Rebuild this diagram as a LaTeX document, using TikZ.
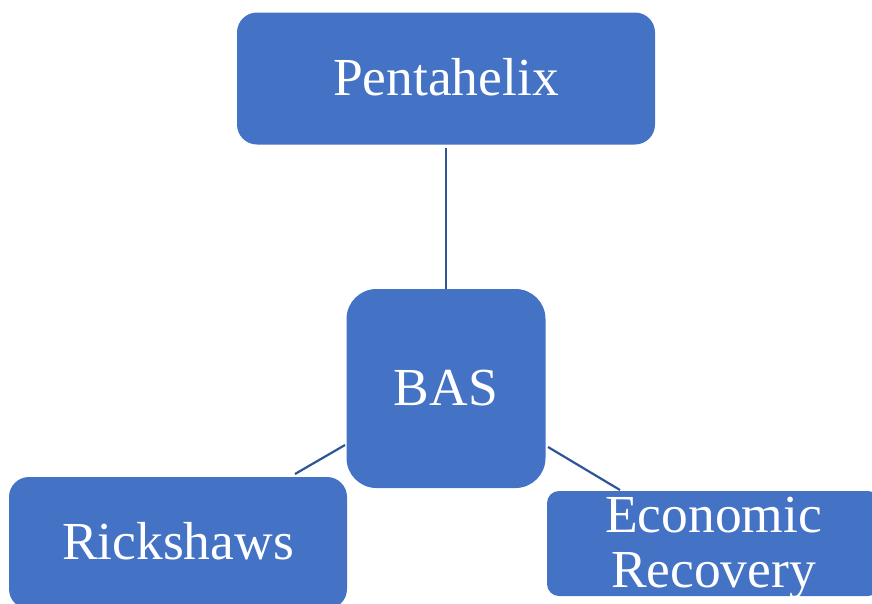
\documentclass[tikz,border=0pt]{standalone}
\usepackage{fontspec}
\setmainfont{Liberation Serif}
\definecolor{boxblue}{HTML}{4472C4}
\definecolor{linkblue}{HTML}{2F5597}
\begin{document}
\begin{tikzpicture}[x=1pt,y=-1pt,
  box/.style={fill=boxblue, text=white, inner sep=0pt,
    font=\fontsize{53.5}{55}\selectfont, text height=33pt, text depth=0pt},
  link/.style={draw=linkblue, line width=2.2pt}]
\useasboundingbox (0,0) rectangle (872,603);
\node[box, rounded corners=20pt, minimum width=418pt, minimum height=132pt] (p) at (446,78.5) {Pentahelix};
\node[box, rounded corners=30pt, minimum width=199pt, minimum height=199pt] (b) at (446,388.5) {BAS};
\node[box, rounded corners=20pt, minimum width=338pt, minimum height=132pt] (r) at (178,543) {Rickshaws};
\node[box, rounded corners=12pt, minimum width=333pt, minimum height=105pt, align=center,
  text height=90pt, text depth=3pt] (e) at (713.5,543.5) {Economic\\Recovery};
\coordinate (bl) at (345,445);
\coordinate (rl) at (295,474);
\coordinate (br) at (548,447);
\coordinate (er) at (620,490);
\draw[link] ([yshift=-3pt]p.south) -- (b.north);
\draw[link] (bl) -- (rl);
\draw[link] (br) -- (er);
\end{tikzpicture}
\end{document}
